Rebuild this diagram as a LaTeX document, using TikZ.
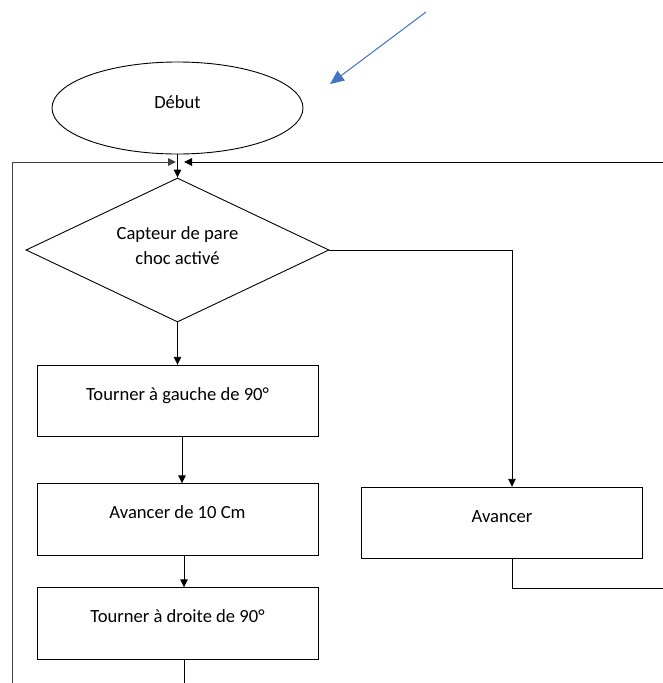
\documentclass[tikz,border=0pt]{standalone}
\usepackage{fontspec}
\setmainfont{Carlito}
\usetikzlibrary{shapes.geometric, arrows.meta}

\begin{document}
\begin{tikzpicture}[x=1pt, y=-1pt, line width=0.9pt,
font=\fontsize{18.6}{25}\selectfont,
flow/.style = {-{Triangle[length=8pt, width=7.5pt]}},
box/.style = {draw, rectangle, minimum width=281pt, minimum height=71.5pt,
	inner sep=0pt, text height=13pt, text depth=15pt},
pointer/.style = {draw={rgb,255:red,68;green,114;blue,196}, line width=1pt,
	-{Triangle[length=14pt, width=12pt]}}
]
\clip (0, 0) rectangle (663, 683);

\node[draw, ellipse, minimum width=251pt, minimum height=92pt, inner sep=0pt,
	text height=13pt, text depth=13pt] (debut) at (177.5, 108) {Début};
\node[draw, diamond, shape aspect=2.1, minimum width=303pt, minimum height=144pt,
	inner sep=0pt, align=center, text depth=9pt] (choc) at (177.5, 250)
	{Capteur de pare\\choc activé};
\node[box] (gauche) at (177.5, 401) {Tourner à gauche de 90°};
\node[box] (dix) at (177.5, 519.5) {Avancer de 10 Cm};
\node[box] (droite) at (177.5, 623.5) {Tourner à droite de 90°};
\node[box] (avancer) at (502, 523) {Avancer};

\coordinate (join) at (177.5, 162);
\coordinate (loopL) at (12, 690);
\coordinate (loopR) at (670, 162);
\coordinate (exitR) at (670, 588.5);
\coordinate (exitB) at (184, 690);
\coordinate (tail) at (426, 12);
\coordinate (head) at (330, 84);

\draw[flow] (debut) -- (choc);
\draw[flow, black!75] (loopL) |- ([xshift=-1.5pt]join);
\draw[flow] (loopR) -- ([xshift=6.5pt]join);
\draw[flow] (choc) -- (gauche);
\draw[flow] (choc.east) -| ([xshift=10pt]avancer.north);
\draw ([xshift=10pt]avancer.south) |- (exitR);
\draw[flow] ([xshift=4.5pt]gauche.south) -- ([xshift=4.5pt]dix.north);
\draw[flow] ([xshift=6.5pt]dix.south) -- ([xshift=6.5pt]droite.north);
\draw ([xshift=6.5pt]droite.south) -- (exitB);
\draw[pointer] (tail) -- (head);
\end{tikzpicture}
\end{document}
